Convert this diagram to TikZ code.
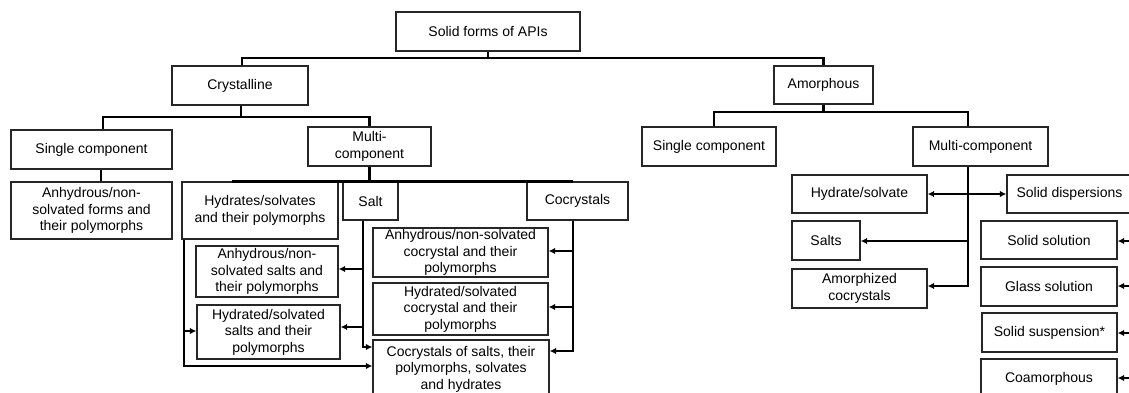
\documentclass[tikz,border=0pt]{standalone}
\usepackage{fontspec}
\setmainfont{Liberation Sans}
\usetikzlibrary{arrows.meta}
\tikzset{
  box/.style={draw=black!85, line width=1.3pt, inner sep=1pt, align=center,
    font=\fontsize{14}{16.5}\selectfont},
  conn/.style={line width=2.4pt, line join=miter, black},
  arr/.style={conn, -{Latex[length=6.5pt,width=6.5pt]}},
  darr/.style={conn, {Latex[length=6.5pt,width=6.5pt]}-{Latex[length=6.5pt,width=6.5pt]}}
}
\begin{document}
\begin{tikzpicture}[x=1pt,y=-1pt]
\useasboundingbox (0,0) rectangle (1129,392);
\clip (0,0) rectangle (1129,392);
\fill[white] (0,0) rectangle (1129,392);
% nodes
\node[box, minimum width=184pt, minimum height=39pt] (top) at (488,31.5) {Solid forms of APIs};
\node[box, minimum width=136pt, minimum height=39pt] (cryst) at (240,85.5) {Crystalline};
\node[box, minimum width=99pt, minimum height=38pt] (amor) at (823.5,85) {Amorphous};
\node[box, minimum width=161pt, minimum height=39pt] (sc1) at (91.5,149.5) {Single component};
\node[box, minimum width=123pt, minimum height=39pt] (mc1) at (369.5,146.5) {Multi-\\component};
\node[box, minimum width=161pt, minimum height=57pt] (anhyd1) at (91.5,210.5) {Anhydrous/non-\\solvated forms and\\their polymorphs};
\node[box, minimum width=156pt, minimum height=57pt] (hydr) at (260,210.5) {Hydrates/solvates\\and their polymorphs};
\node[box, minimum width=55pt, minimum height=38pt] (salt) at (370.5,201) {Salt};
\node[box, minimum width=101pt, minimum height=38pt] (cocr) at (577.5,201) {Cocrystals};
\node[box, minimum width=142pt, minimum height=51pt] (anhsalt) at (267,271.5) {Anhydrous/non-\\solvated salts and\\their polymorphs};
\node[box, minimum width=143pt, minimum height=54pt] (hydsalt) at (268.5,332) {Hydrated/solvated\\salts and their\\polymorphs};
\node[box, minimum width=175pt, minimum height=49pt] (anhcoc) at (460.5,252.5) {Anhydrous/non-solvated\\cocrystal and their\\polymorphs};
\node[box, minimum width=175pt, minimum height=52pt] (hydcoc) at (460.5,309) {Hydrated/solvated\\cocrystal and their\\polymorphs};
\node[box, minimum width=176pt, minimum height=58pt] (cocsalt) at (461,369) {Cocrystals of salts, their\\polymorphs, solvates\\and hydrates};
\node[box, minimum width=134pt, minimum height=39pt] (sc2) at (709,146.5) {Single component};
\node[box, minimum width=135pt, minimum height=39pt] (mc2) at (980.5,146.5) {Multi-component};
\node[box, minimum width=135pt, minimum height=38pt] (hydsolv) at (859.5,194) {Hydrate/solvate};
\node[box, minimum width=125pt, minimum height=38pt] (soldisp) at (1069.5,194) {Solid dispersions};
\node[box, minimum width=68pt, minimum height=39pt] (salts) at (826,240.5) {Salts};
\node[box, minimum width=135pt, minimum height=39pt] (amcoc) at (859.5,288.5) {Amorphized\\cocrystals};
\node[box, minimum width=136pt, minimum height=38pt] (solsol) at (1049,240) {Solid solution};
\node[box, minimum width=136pt, minimum height=39pt] (glass) at (1049,286.5) {Glass solution};
\node[box, minimum width=135pt, minimum height=39pt] (susp) at (1049.5,332.5) {Solid suspension*};
\node[box, minimum width=136pt, minimum height=39pt] (coam) at (1049,378.5) {Coamorphous};
% top level
\draw[conn] (top.south) -- (top.south |- 0,58);
\draw[conn] (cryst.north -| 242,0) |- (amor.north |- 0,58) -- (amor.north);
% crystalline
\draw[conn] (cryst.south -| 241,0) -- (241,117);
\draw[conn] (sc1.north -| 103,0) |- (mc1.north |- 0,117) -- (mc1.north);
\draw[conn] (sc1.south -| 101,0) -- (anhyd1.north -| 101,0);
% multi-component crystalline
\draw[conn] (mc1.south) -- (mc1.south |- salt.north);
\draw[conn] (hydr.north -| 232,0) |- (cocr.north -| 573,175) -- (cocr.north -| 573,0);
% salt
\draw[arr] (salt.south -| 363,0) |- (cocsalt.west |- 0,347);
\draw[arr] (363,269) -- (anhsalt.east |- 0,269);
\draw[arr] (363,327) -- (hydsalt.east |- 0,327);
% hydrates
\draw[arr] (hydr.south -| 184,0) |- (cocsalt.west |- 0,366);
\draw[arr] (184,331) -- (hydsalt.west |- 0,331);
% cocrystals
\draw[arr] (cocr.south -| 573,0) |- (cocsalt.east |- 0,351);
\draw[arr] (573,251) -- (anhcoc.east |- 0,251);
\draw[arr] (573,307) -- (hydcoc.east |- 0,307);
% amorphous
\draw[conn] (amor.south) -- (amor.south |- 0,112);
\draw[conn] (sc2.north -| 714,0) |- (968,112) -- (mc2.north -| 968,0);
\draw[arr] (mc2.south -| 968,0) |- (amcoc.east |- 0,286);
\draw[arr] (968,241) -- (salts.east |- 0,241);
\draw[darr] (hydsolv.east) -- (soldisp.west);
% solid dispersions
\draw[conn] (soldisp.south -| 1140,0) -- (1140,378);
\draw[arr] (1140,241) -- (solsol.east |- 0,241);
\draw[arr] (1140,286) -- (glass.east |- 0,286);
\draw[arr] (1140,333) -- (susp.east |- 0,333);
\draw[arr] (1140,378) -- (coam.east |- 0,378);
\end{tikzpicture}
\end{document}
